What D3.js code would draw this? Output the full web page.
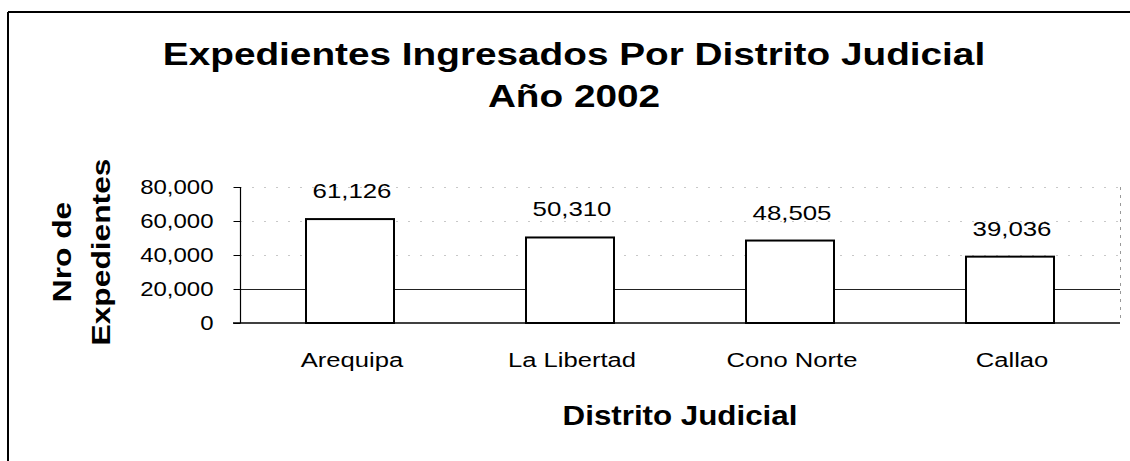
<!DOCTYPE html>
<html>
<head>
<meta charset="utf-8">
<script src="https://cdn.jsdelivr.net/npm/d3@7"></script>
<style>
  html, body { margin: 0; padding: 0; background: #fff; }
  svg { display: block; font-family: "Liberation Sans", Arial, Helvetica, sans-serif; }
</style>
</head>
<body>
<svg id="chart" width="1130" height="461"></svg>
<script>
// ---- data ----
const categories = ["Arequipa", "La Libertad", "Cono Norte", "Callao"];
const values = [61126, 50310, 48505, 39036];
const yTicks = [0, 20000, 40000, 60000, 80000];
const titleLines = ["Expedientes Ingresados Por Distrito Judicial", "Año 2002"];
const yTitleLines = ["Nro de", "Expedientes"];
const xTitle = "Distrito Judicial";

// ---- layout ----
const W = 1130, H = 461;
const plot = { left: 240, right: 1120, top: 187, bottom: 323 };
const SX = 1.2; // horizontal stretch of the glyphs (as in the scanned original)
const svg = d3.select("#chart");
const fmt = d3.format(",");

const x = d3.scaleBand().domain(categories).range([plot.left, plot.right])
  .paddingInner(0.6).paddingOuter(0.3);
const y = d3.scaleLinear().domain([0, 80000]).range([plot.bottom, plot.top]);

function stretchedText(parent, tx, ty, str, size, bold, sx, rot) {
  const g = parent.append("g").attr("transform", `translate(${tx},${ty})` + (rot ? ` rotate(${rot})` : ""));
  g.append("text").attr("transform", `scale(${sx},1)`)
    .attr("text-anchor", "middle")
    .attr("font-size", size)
    .attr("font-weight", bold ? "bold" : "normal")
    .text(str);
  return g;
}

// outer frame (top & left edges visible)
svg.append("line").attr("x1", 8).attr("x2", W).attr("y1", 12).attr("y2", 12)
  .attr("stroke", "#000").attr("stroke-width", 2);
svg.append("line").attr("x1", 8).attr("x2", 8).attr("y1", 12).attr("y2", H)
  .attr("stroke", "#000").attr("stroke-width", 2);

// title
const tg = svg.append("g");
titleLines.forEach((t, i) => stretchedText(tg, 574, 65 + i * 42, t, 31, true, 1.25));

// gridlines
svg.append("g").selectAll("line").data(yTicks.filter(t => t > 0)).join("line")
  .attr("x1", plot.left).attr("x2", plot.right)
  .attr("y1", d => Math.round(y(d)) + 0.5).attr("y2", d => Math.round(y(d)) + 0.5)
  .attr("stroke", d => d === 20000 ? "#222" : "#c8c8c8")
  .attr("stroke-width", 1)
  .attr("stroke-dasharray", d => d === 20000 ? null : "2,10");
// right plot edge (faint)
svg.append("line").attr("x1", plot.right + 0.5).attr("x2", plot.right + 0.5)
  .attr("y1", plot.top).attr("y2", plot.bottom)
  .attr("stroke", "#999").attr("stroke-dasharray", "3,5");

// y axis
const yAxis = d3.axisLeft(y).tickValues(yTicks).tickSize(7).tickPadding(20)
  .tickFormat(fmt);
const gy = svg.append("g").attr("transform", `translate(${plot.left + 0.5},0)`).call(yAxis);
gy.select(".domain").attr("d", `M0,${plot.top}V${plot.bottom}`).attr("stroke", "#000").attr("stroke-width", 1.2);
gy.selectAll(".tick line").attr("stroke", "#000");
gy.selectAll(".tick text")
  .attr("font-family", "'Liberation Sans', Arial, sans-serif")
  .attr("font-size", 20).attr("fill", "#000")
  .attr("x", -27 / SX)
  .attr("transform", `scale(${SX},1)`);

// bars
svg.append("g").selectAll("rect").data(values).join("rect")
  .attr("x", (d, i) => x(categories[i]))
  .attr("y", d => y(d))
  .attr("width", x.bandwidth())
  .attr("height", d => y(0) - y(d))
  .attr("fill", "#fff").attr("stroke", "#000").attr("stroke-width", 2);

// zero line
svg.append("line").attr("x1", plot.left - 7).attr("x2", plot.right)
  .attr("y1", y(0)).attr("y2", y(0)).attr("stroke", "#000").attr("stroke-width", 1.5);

// value labels
const vg = svg.append("g");
values.forEach((v, i) =>
  stretchedText(vg, x(categories[i]) + x.bandwidth() / 2 + 2, y(v) - 21, fmt(v), 21, false, 1.23));

// category labels
const cg = svg.append("g");
categories.forEach(c =>
  stretchedText(cg, x(c) + x.bandwidth() / 2 + 2, 367, c, 21, false, 1.22));

// x title
stretchedText(svg, 680, 425, xTitle, 27, true, 1.16);

// y title
const yg = svg.append("g");
yTitleLines.forEach((t, i) =>
  stretchedText(yg, i === 0 ? 71 : 110, 252, t, 25, true, 1.27, -90));
</script>
</body>
</html>
